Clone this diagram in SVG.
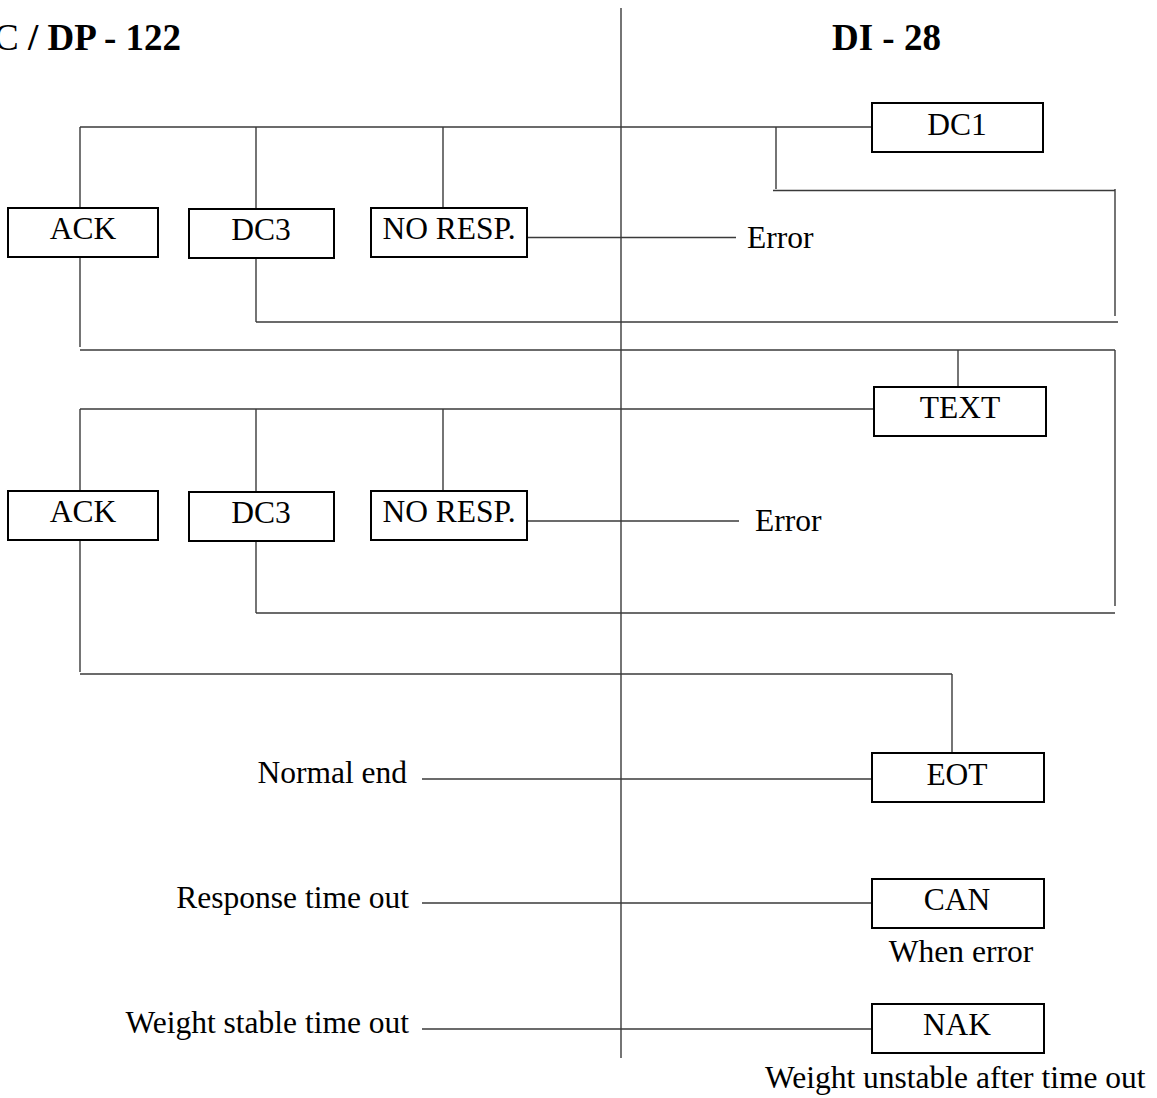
<svg xmlns="http://www.w3.org/2000/svg" width="1157" height="1098" viewBox="0 0 1157 1098">
<style>
  .ln { stroke: #3a3a3a; stroke-width: 1.4; fill: none; }
  .box { fill: #ffffff; stroke: #000000; stroke-width: 2; }
  .t { font-family: "Liberation Serif", "Times New Roman", serif; font-size: 31.5px; fill: #000000; }
  .c { text-anchor: middle; }
  .e { text-anchor: end; }
  .title { font-family: "Liberation Serif", "Times New Roman", serif; font-size: 37px; fill: #000000; }
</style>
<rect x="0" y="0" width="1157" height="1098" fill="#ffffff"/>

<g id="titles">
  <text class="title" x="-6" y="50"><tspan>C</tspan><tspan font-weight="bold"> / DP - 122</tspan></text>
  <text class="title" x="832" y="50" font-weight="bold">DI - 28</text>
</g>

<g id="connectors">
  <line class="ln" x1="621" y1="8" x2="621" y2="1058"/>
  <!-- first block -->
  <line class="ln" x1="80" y1="127" x2="872" y2="127"/>
  <line class="ln" x1="80" y1="127" x2="80" y2="207"/>
  <line class="ln" x1="256" y1="127" x2="256" y2="208"/>
  <line class="ln" x1="443" y1="127" x2="443" y2="207"/>
  <line class="ln" x1="776" y1="127" x2="776" y2="189"/>
  <line class="ln" x1="773" y1="190.5" x2="1115" y2="190.5"/>
  <line class="ln" x1="1115" y1="189" x2="1115" y2="316"/>
  <line class="ln" x1="527" y1="237.5" x2="736" y2="237.5"/>
  <line class="ln" x1="256" y1="258" x2="256" y2="322"/>
  <line class="ln" x1="256" y1="322" x2="1118" y2="322"/>
  <line class="ln" x1="80" y1="257" x2="80" y2="347"/>
  <line class="ln" x1="80" y1="350" x2="1115" y2="350"/>
  <line class="ln" x1="958" y1="350" x2="958" y2="386"/>
  <line class="ln" x1="1115" y1="350" x2="1115" y2="606"/>
  <!-- second block -->
  <line class="ln" x1="80" y1="409" x2="874" y2="409"/>
  <line class="ln" x1="80" y1="409" x2="80" y2="491"/>
  <line class="ln" x1="256" y1="409" x2="256" y2="492"/>
  <line class="ln" x1="443" y1="409" x2="443" y2="491"/>
  <line class="ln" x1="527" y1="521" x2="739" y2="521"/>
  <line class="ln" x1="256" y1="541" x2="256" y2="613"/>
  <line class="ln" x1="256" y1="613" x2="1115" y2="613"/>
  <line class="ln" x1="80" y1="540" x2="80" y2="672"/>
  <line class="ln" x1="80" y1="674" x2="952" y2="674"/>
  <line class="ln" x1="952" y1="674" x2="952" y2="752"/>
  <!-- bottom -->
  <line class="ln" x1="422" y1="779" x2="872" y2="779"/>
  <line class="ln" x1="422" y1="903" x2="872" y2="903"/>
  <line class="ln" x1="422" y1="1029" x2="872" y2="1029"/>
</g>

<g id="node-dc1"><rect class="box" x="872" y="103" width="171" height="49"/><text class="t c" x="957" y="135">DC1</text></g>
<g id="node-ack1"><rect class="box" x="8" y="208" width="150" height="49"/><text class="t c" x="83" y="239">ACK</text></g>
<g id="node-dc3-1"><rect class="box" x="189" y="209" width="145" height="49"/><text class="t c" x="261" y="240">DC3</text></g>
<g id="node-noresp1"><rect class="box" x="371" y="208" width="156" height="49"/><text class="t c" x="449" y="239">NO RESP.</text></g>
<g id="label-error1"><text class="t" x="747" y="248">Error</text></g>

<g id="node-text"><rect class="box" x="874" y="387" width="172" height="49"/><text class="t c" x="960" y="418">TEXT</text></g>
<g id="node-ack2"><rect class="box" x="8" y="491" width="150" height="49"/><text class="t c" x="83" y="522">ACK</text></g>
<g id="node-dc3-2"><rect class="box" x="189" y="492" width="145" height="49"/><text class="t c" x="261" y="523">DC3</text></g>
<g id="node-noresp2"><rect class="box" x="371" y="491" width="156" height="49"/><text class="t c" x="449" y="522">NO RESP.</text></g>
<g id="label-error2"><text class="t" x="755" y="531">Error</text></g>

<g id="node-eot"><rect class="box" x="872" y="753" width="172" height="49"/><text class="t c" x="957" y="785">EOT</text></g>
<g id="node-can"><rect class="box" x="872" y="879" width="172" height="49"/><text class="t c" x="957" y="910">CAN</text></g>
<g id="node-nak"><rect class="box" x="872" y="1004" width="172" height="49"/><text class="t c" x="957" y="1035">NAK</text></g>

<g id="labels">
  <text class="t e" x="407" y="783">Normal end</text>
  <text class="t e" x="409" y="908">Response time out</text>
  <text class="t e" x="409" y="1033">Weight stable time out</text>
  <text class="t c" x="961" y="962">When error</text>
  <text class="t" x="765" y="1088">Weight unstable after time out</text>
</g>
</svg>
